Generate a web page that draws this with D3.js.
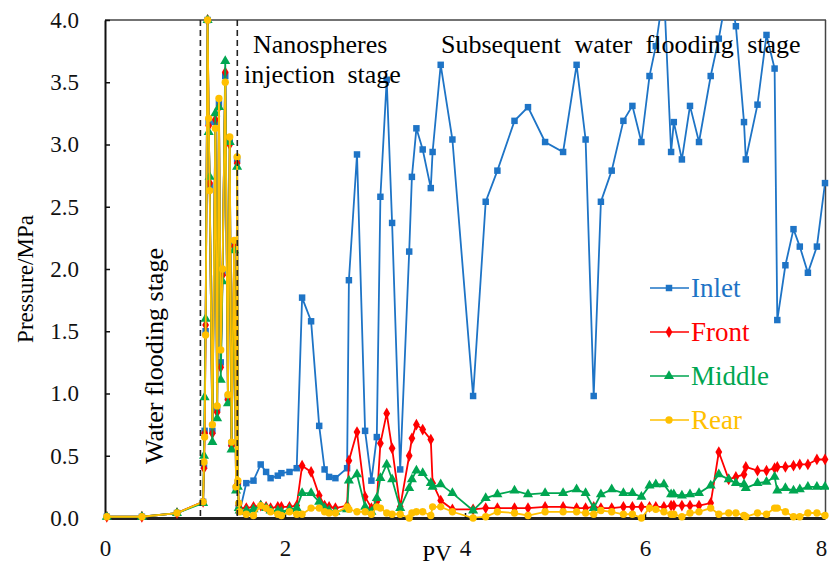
<!DOCTYPE html>
<html>
<head>
<meta charset="utf-8">
<script src="https://cdn.jsdelivr.net/npm/d3@7"></script>
<style>
  body { margin: 0; background: #fff; }
  text { font-family: "Liberation Serif", "Times New Roman", serif; }
</style>
</head>
<body>
<script>
(function () {
	"use strict";

	let w = 829;
	let h = 566;

	// PV (injected pore volumes), shared by all four pressure taps
	const pv = [0.02, 0.41, 0.80,
		1.090, 1.100, 1.107, 1.118, 1.140, 1.152, 1.163, 1.193, 1.226, 1.246, 1.266, 1.286, 1.306, 1.336, 1.366, 1.386, 1.406, 1.436, 1.456, 1.468, 1.476, 1.486, 1.496,
		1.57, 1.65, 1.73, 1.79, 1.84, 1.92, 1.96, 2.05, 2.13, 2.19, 2.29, 2.38, 2.44, 2.49, 2.56, 2.69, 2.71, 2.80, 2.89, 2.96,
		3.02, 3.06, 3.13, 3.19, 3.28, 3.38, 3.41, 3.46, 3.53, 3.62, 3.64, 3.73, 3.86, 4.09, 4.23, 4.36, 4.55, 4.70, 4.89, 5.09,
		5.24, 5.34, 5.43, 5.51, 5.63, 5.76, 5.86, 5.96, 6.05, 6.12, 6.21, 6.29, 6.32, 6.41, 6.50, 6.60, 6.73, 6.82, 6.93, 7.01,
		7.10, 7.12, 7.25, 7.35, 7.44, 7.47, 7.56, 7.65, 7.72, 7.81, 7.91, 8.00, 8.06];

	const inlet = [0.01, 0.01, 0.04,
		0.13, 0.42, 0.70, 1.50, 4.00, 3.18, 2.66, 0.70, 3.18, 0.88, 3.33, 1.25, 1.97, 3.55, 0.97, 3.04, 0.60, 2.20, 0.24, 2.88, 0.28, 0.10, 0.05,
		0.28, 0.30, 0.43, 0.37, 0.32, 0.34, 0.36, 0.37, 0.40, 1.77, 1.58, 0.74, 0.39, 0.33, 0.32, 0.40, 1.91, 2.92, 0.70, 0.30,
		0.65, 2.58, 3.52, 2.37, 0.39, 2.14, 2.74, 3.13, 2.96, 2.65, 2.94, 3.64, 3.04, 0.98, 2.54, 2.79, 3.19, 3.30, 3.02, 2.94,
		3.64, 3.04, 0.98, 2.54, 2.79, 3.19, 3.31, 3.02, 3.55, 3.79, 4.25, 2.94, 3.18, 2.88, 3.31, 3.02, 3.55, 3.85, 4.30, 3.95,
		3.18, 2.88, 3.32, 3.88, 3.61, 1.59, 2.03, 2.32, 2.18, 1.97, 2.18, 2.69, 2.50];

	const front = [0.01, 0.01, 0.04,
		0.13, 0.40, 0.68, 1.55, 4.00, 3.15, 2.69, 0.68, 3.20, 0.85, 3.30, 1.21, 1.95, 3.58, 0.95, 3.00, 0.58, 2.18, 0.25, 2.85, 0.28, 0.10, 0.08,
		0.08, 0.09, 0.10, 0.09, 0.08, 0.09, 0.09, 0.09, 0.10, 0.42, 0.37, 0.18, 0.10, 0.09, 0.08, 0.10, 0.46, 0.69, 0.17, 0.08,
		0.13, 0.60, 0.84, 0.56, 0.09, 0.50, 0.64, 0.75, 0.71, 0.63, 0.28, 0.14, 0.07, 0.07, 0.08, 0.08, 0.08, 0.08, 0.09, 0.09,
		0.08, 0.08, 0.09, 0.08, 0.08, 0.09, 0.09, 0.09, 0.09, 0.09, 0.09, 0.10, 0.10, 0.10, 0.10, 0.10, 0.12, 0.53, 0.31, 0.33,
		0.35, 0.41, 0.38, 0.38, 0.40, 0.41, 0.41, 0.42, 0.43, 0.43, 0.47, 0.47, 0.48];

	const middle = [0.01, 0.01, 0.04,
		0.12, 0.50, 0.97, 1.60, 4.00, 3.10, 2.74, 0.61, 3.25, 0.80, 3.30, 1.11, 1.90, 3.67, 0.92, 3.02, 0.55, 2.15, 0.22, 2.82, 0.25, 0.08, 0.06,
		0.06, 0.07, 0.10, 0.08, 0.06, 0.06, 0.05, 0.07, 0.08, 0.20, 0.20, 0.13, 0.08, 0.06, 0.05, 0.07, 0.30, 0.35, 0.09, 0.05,
		0.16, 0.32, 0.43, 0.31, 0.08, 0.24, 0.31, 0.38, 0.36, 0.28, 0.25, 0.27, 0.20, 0.06, 0.16, 0.19, 0.22, 0.19, 0.20, 0.20,
		0.23, 0.20, 0.08, 0.19, 0.23, 0.20, 0.20, 0.17, 0.26, 0.27, 0.27, 0.19, 0.19, 0.18, 0.19, 0.20, 0.26, 0.35, 0.31, 0.28,
		0.27, 0.24, 0.28, 0.29, 0.33, 0.22, 0.24, 0.22, 0.23, 0.25, 0.25, 0.25, 0.26];

	const rear = [0.01, 0.01, 0.04,
		0.13, 0.45, 0.65, 1.47, 4.00, 3.21, 2.63, 0.75, 3.13, 0.90, 3.37, 1.35, 2.00, 3.50, 0.99, 3.06, 0.61, 2.23, 0.25, 2.90, 0.30, 0.12, 0.05,
		0.03, 0.02, 0.10, 0.08, 0.05, 0.03, 0.02, 0.05, 0.03, 0.03, 0.08, 0.08, 0.05, 0.04, 0.04, 0.09, 0.07, 0.05, 0.05, 0.03,
		0.09, 0.08, 0.04, 0.03, 0.03, 0.00, 0.04, 0.05, 0.05, 0.02, 0.09, 0.09, 0.05, 0.00, 0.01, 0.05, 0.04, 0.02, 0.05, 0.05,
		0.05, 0.04, 0.03, 0.06, 0.05, 0.03, 0.03, 0.00, 0.08, 0.07, 0.05, 0.03, 0.03, 0.01, 0.04, 0.05, 0.08, 0.03, 0.04, 0.04,
		0.02, 0.01, 0.04, 0.03, 0.08, 0.08, 0.05, 0.01, 0.01, 0.04, 0.04, 0.02, 0.03];

	const xTicks = [0, 2, 4, 6, 8];
	const yTicks = [0, 0.5, 1.0, 1.5, 2.0, 2.5, 3.0, 3.5, 4.0];
	const stageBounds = [1.06, 1.47];

	let x = d3.scaleLinear().domain([0, 8]).range([105, 825]);
	let y = d3.scaleLinear().domain([0, 4]).range([518, 20]);

	let svg = d3.select('body').append('svg').attr('width', w).attr('height', h);
	svg.append('rect').attr('width', w).attr('height', h).attr('fill', '#fff');

	svg.append('clipPath').attr('id', 'plot')
		.append('rect').attr('x', 105).attr('y', 20).attr('width', 720).attr('height', 498);

	// frame (top and right)
	svg.append('line').attr('x1', 105).attr('x2', 826).attr('y1', 20).attr('y2', 20)
		.attr('stroke', '#444').attr('stroke-width', 1.5);
	svg.append('line').attr('x1', 825.5).attr('x2', 825.5).attr('y1', 20).attr('y2', 518)
		.attr('stroke', '#444').attr('stroke-width', 1.5);

	let gy = svg.append('g').attr('transform', 'translate(105,0)')
		.call(d3.axisLeft(y).tickValues(yTicks).tickFormat(d3.format('.1f')).tickSize(-5).tickSizeOuter(0).tickPadding(26));
	let gx = svg.append('g').attr('transform', 'translate(0,518)')
		.call(d3.axisBottom(x).tickValues(xTicks).tickFormat(d3.format('d')).tickSize(-5).tickSizeOuter(0).tickPadding(22));
	[gy, gx].forEach(function (g) {
		g.selectAll('text').attr('font-size', 23).attr('fill', '#111')
			.style('font-family', '"Liberation Serif", serif');
		g.selectAll('.tick line').attr('stroke', '#111').attr('stroke-width', 1.5);
	});
	// keep the last x label inside the picture
	gx.selectAll('.tick text').attr('dx', (d) => d === 8 ? -4 : 0);
	gy.select('.domain').attr('stroke', '#111').attr('stroke-width', 2);
	gx.select('.domain').attr('stroke', '#222').attr('stroke-width', 3);

	let series = [
		{ name: 'Inlet', values: inlet, color: '#1e74c6', symbol: d3.symbolSquare, size: 42 },
		{ name: 'Front', values: front, color: '#ff0000', symbol: d3.symbolDiamond, size: 40 },
		{ name: 'Middle', values: middle, color: '#00a651', symbol: d3.symbolTriangle, size: 44 },
		{ name: 'Rear', values: rear, color: '#ffc000', symbol: d3.symbolCircle, size: 42 }
	];

	let line = d3.line().x((d) => x(d[0])).y((d) => y(d[1]));

	series.forEach(function (s) {
		let pts = pv.map((p, i) => [p, s.values[i]]);
		let g = svg.append('g');
		g.append('path')
			.attr('d', line(pts))
			.attr('fill', 'none')
			.attr('stroke', s.color)
			.attr('stroke-width', 1.8)
			.attr('clip-path', 'url(#plot)');
		g.selectAll('path.mk')
			.data(pts.filter((d) => d[1] <= 4 && d[0] <= 8))
			.enter()
			.append('path')
			.attr('class', 'mk')
			.attr('transform', (d) => 'translate(' + x(d[0]) + ',' + y(d[1]) + ')')
			.attr('d', d3.symbol().type(s.symbol).size(s.size))
			.attr('fill', s.color);
	});

	// stage boundaries
	svg.selectAll('line.stage')
		.data(stageBounds)
		.enter()
		.append('line')
		.attr('class', 'stage')
		.attr('x1', (d) => x(d)).attr('x2', (d) => x(d))
		.attr('y1', 20).attr('y2', 518)
		.attr('stroke', '#222')
		.attr('stroke-width', 1.6)
		.attr('stroke-dasharray', '6,4');

	// stage labels
	svg.append('text')
		.attr('transform', 'translate(163,464) rotate(-90)')
		.attr('font-size', 26)
		.text('Water flooding stage');
	svg.append('text').attr('x', 253).attr('y', 53).attr('font-size', 26).text('Nanospheres');
	svg.append('text').attr('x', 244).attr('y', 83).attr('font-size', 26)
		.style('word-spacing', '6px').text('injection stage');
	svg.append('text').attr('x', 441).attr('y', 53).attr('font-size', 26)
		.style('word-spacing', '7px').text('Subsequent water flooding stage');

	// axis titles
	svg.append('text')
		.attr('transform', 'translate(33,279) rotate(-90)')
		.attr('text-anchor', 'middle')
		.attr('font-size', 23)
		.text('Pressure/MPa');
	svg.append('text').attr('x', 437).attr('y', 561).attr('text-anchor', 'middle')
		.attr('font-size', 23).text('PV');

	// legend
	let lg = svg.selectAll('g.legend')
		.data(series)
		.enter()
		.append('g')
		.attr('class', 'legend')
		.attr('transform', (d, i) => 'translate(650,' + (288 + i * 44) + ')');
	lg.append('line').attr('x1', 0).attr('x2', 39).attr('y1', 0).attr('y2', 0)
		.attr('stroke', (d) => d.color).attr('stroke-width', 1.6);
	lg.append('path')
		.attr('transform', 'translate(19,0)')
		.attr('d', (d) => d3.symbol().type(d.symbol).size(d.size)())
		.attr('fill', (d) => d.color);
	lg.append('text').attr('x', 41).attr('y', 9).attr('font-size', 27)
		.attr('fill', (d) => d.color)
		.text((d) => d.name);
})();
</script>
</body>
</html>
